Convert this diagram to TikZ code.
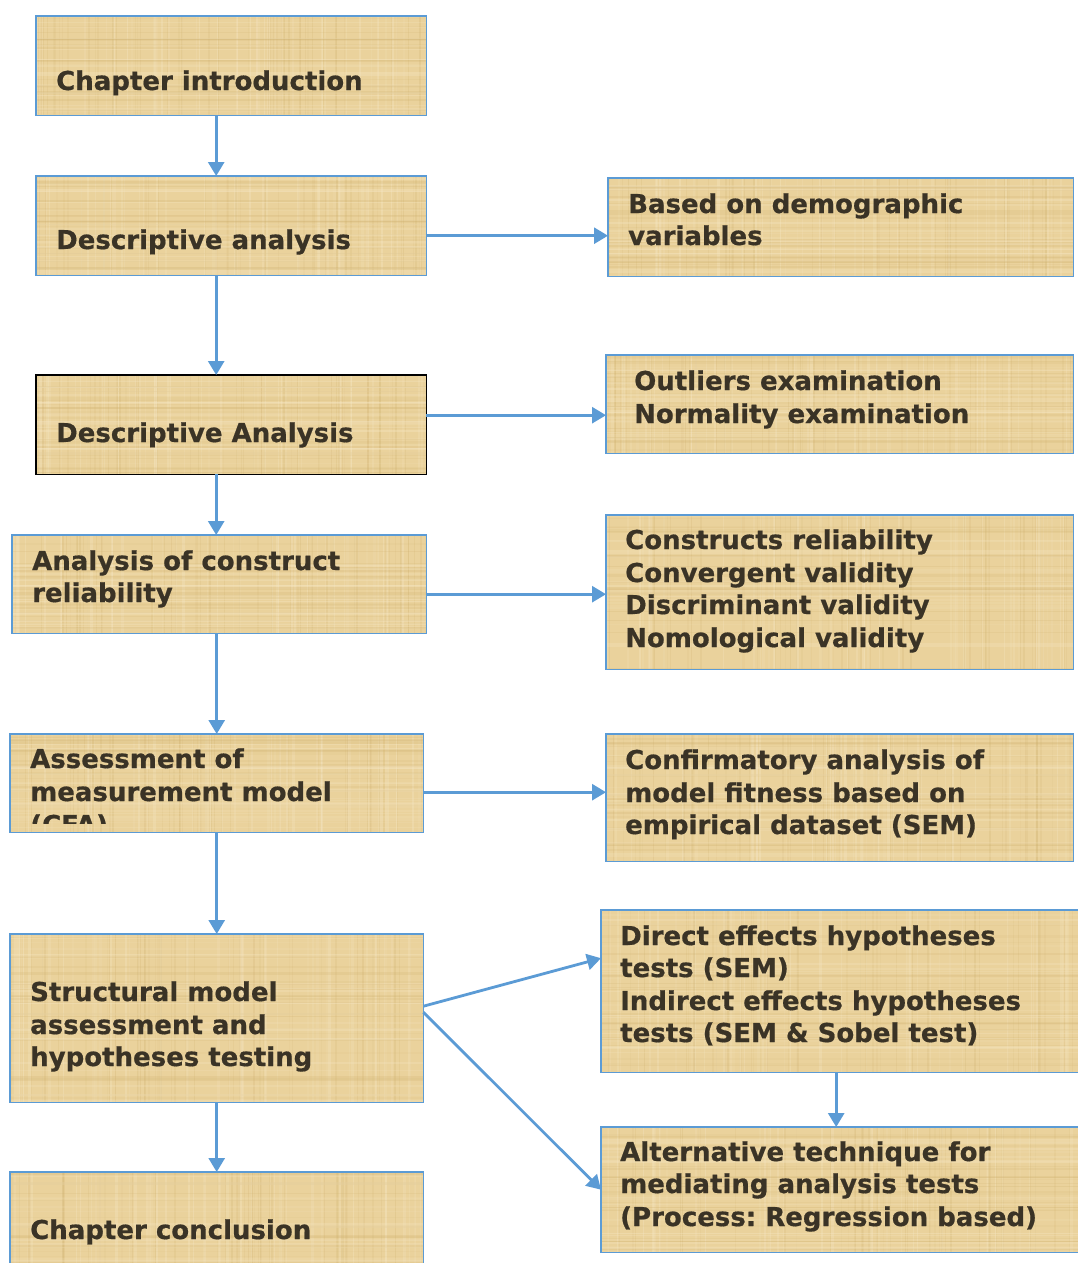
\documentclass[tikz,border=0pt]{standalone}
\usepackage{fontspec}
\setmainfont{DejaVu Sans}[BoldFeatures={FakeBold=0.6}]
\usetikzlibrary{arrows.meta,calc}
\frenchspacing

\definecolor{edgeblue}{HTML}{5B9BD5}
\definecolor{papyrus}{HTML}{EAD29C}
\definecolor{papyruslight}{HTML}{F6E7C4}
\definecolor{papyrusdark}{HTML}{CDAE6A}
\definecolor{inktext}{HTML}{3A3326}

\tikzset{
  x=1pt, y=-1pt,
  panel/.style={rectangle, anchor=north west, inner sep=0pt, fill=papyrus},
  boxtext/.style={anchor=base west, inner sep=0pt, text=inktext,
    font=\bfseries\fontsize{26}{30}\selectfont},
  tighttext/.style={boxtext, font=\bfseries\fontsize{26}{30}\selectfont},
  link/.style={draw=edgeblue, line width=2.8pt,
    -{Triangle[length=14pt,width=16pt]}},
}

% A papyrus panel: [border colour]{name}{left}{top}{width}{height}
\newcommand\panel[6][edgeblue]{%
  \node[panel, minimum width=#5pt, minimum height=#6pt] (#2) at (#3,#4) {};
  \begin{scope}
    \clip (#2.south west) rectangle (#2.north east);
    % vertical fibres
    \foreach \k in {1,...,45}{%
      \pgfmathsetmacro\rr{rnd}%
      \pgfmathsetmacro\ww{0.6+2.4*rnd}%
      \pgfmathsetmacro\oo{0.10+0.25*rnd}%
      \draw[papyruslight, line width=\ww pt, opacity=\oo]
        ($(#2.south west)!\rr!(#2.south east)$) -- ($(#2.north west)!\rr!(#2.north east)$);
      \pgfmathsetmacro\rr{rnd}%
      \pgfmathsetmacro\ww{0.5+1.5*rnd}%
      \pgfmathsetmacro\oo{0.06+0.16*rnd}%
      \draw[papyrusdark, line width=\ww pt, opacity=\oo]
        ($(#2.south west)!\rr!(#2.south east)$) -- ($(#2.north west)!\rr!(#2.north east)$);
    }
    % horizontal fibres
    \foreach \k in {1,...,22}{%
      \pgfmathsetmacro\rr{rnd}%
      \pgfmathsetmacro\ww{0.6+2.0*rnd}%
      \pgfmathsetmacro\oo{0.10+0.25*rnd}%
      \draw[papyruslight, line width=\ww pt, opacity=\oo]
        ($(#2.south west)!\rr!(#2.north west)$) -- ($(#2.south east)!\rr!(#2.north east)$);
      \pgfmathsetmacro\rr{rnd}%
      \draw[papyrusdark, line width=\ww pt, opacity=0.6*\oo]
        ($(#2.south west)!\rr!(#2.north west)$) -- ($(#2.south east)!\rr!(#2.north east)$);
    }
  \end{scope}
  \draw[#1, line width=1.8pt] (#2.south west) rectangle (#2.north east);
}

\begin{document}
\begin{tikzpicture}
\pgfmathsetseed{11}
\useasboundingbox[fill=white] (0,0) rectangle (1077,1263);

% ---- left column ----
\panel{intro}{36}{16}{390}{99}
\node[boxtext] (introtxt) at (56,90) {Chapter introduction};

\panel{descA}{36}{176}{390}{99}
\node[boxtext] (descAtxt) at (56,249) {Descriptive analysis};

\panel[black]{descB}{36}{375}{390}{99}
\node[boxtext] (descBtxt) at (56,442) {Descriptive Analysis};

\panel{reli}{12}{535}{414}{98}
\node[boxtext] (relitxtA) at (32,570) {Analysis of construct};
\node[boxtext] (relitxtB) at (32,602) {reliability};

\panel{meas}{10}{734}{413}{98}
\node[boxtext] (meastxtA) at (30,768) {Assessment of};
\node[boxtext] (meastxtB) at (30,801) {measurement model};
\begin{scope}
  \clip (10,734) rectangle (423,823);
  \node[boxtext] (meastxtC) at (30,834) {(CFA)};
\end{scope}

\panel{struct}{10}{934}{413}{168}
\node[boxtext] (structtxtA) at (30,1001) {Structural model};
\node[boxtext] (structtxtB) at (30,1034) {assessment and};
\node[boxtext] (structtxtC) at (30,1066) {hypotheses testing};

\panel{concl}{10}{1172}{413}{120}
\node[boxtext] (concltxt) at (30,1239) {Chapter conclusion};

% ---- right column ----
\panel{demo}{608}{178}{465}{98}
\node[boxtext] (demotxtA) at (628,213) {Based on demographic};
\node[boxtext] (demotxtB) at (628,245) {variables};

\panel{outl}{606}{355}{467}{98}
\node[boxtext] (outltxtA) at (634,390) {Outliers examination};
\node[boxtext] (outltxtB) at (634,423) {Normality examination};

\panel{cons}{606}{515}{467}{154}
\node[boxtext] (constxtA) at (625,549) {Constructs reliability};
\node[boxtext] (constxtB) at (625,582) {Convergent validity};
\node[boxtext] (constxtC) at (625,614) {Discriminant validity};
\node[boxtext] (constxtD) at (625,647) {Nomological validity};

\panel{conf}{606}{734}{467}{127}
\node[boxtext] (conftxtA) at (625,769) {Confirmatory analysis of};
\node[boxtext] (conftxtB) at (625,802) {model fitness based on};
\node[boxtext] (conftxtC) at (625,834) {empirical dataset (SEM)};

\panel{direct}{601}{910}{490}{162}
\node[tighttext] (directtxtA) at (620,945) {Direct effects hypotheses};
\node[tighttext] (directtxtB) at (620,977) {tests (SEM)};
\node[tighttext] (directtxtC) at (620,1010) {Indirect effects hypotheses};
\node[tighttext] (directtxtD) at (620,1042) {tests (SEM \& Sobel test)};

\panel{alt}{601}{1127}{490}{125}
\node[tighttext] (alttxtA) at (620,1161) {Alternative technique for};
\node[tighttext] (alttxtB) at (620,1193) {mediating analysis tests};
\node[tighttext] (alttxtC) at (620,1226) {(Process: Regression based)};

% ---- connectors down the left column ----
\draw[link] ([xshift=-15pt]intro.south) -- ([xshift=-15pt]descA.north);
\draw[link] ([xshift=-15pt]descA.south) -- ([xshift=-15pt]descB.north);
\coordinate (descBout) at ([xshift=-15pt]descB.south);
\draw[link] (descBout) -- (descBout |- reli.north);
\draw[link] (reli.south -| meas.north) -- (meas.north);
\draw[link] (meas.south) -- (struct.north);
\draw[link] (struct.south) -- (concl.north);

% ---- connectors to the right column ----
\coordinate (descAout) at ([yshift=-10pt]descA.east);
\draw[link] (descAout) -- (descAout -| demo.west);
\coordinate (descBside) at ([yshift=9.5pt]descB.east);
\draw[link] (descBside) -- (descBside -| outl.west);
\coordinate (reliout) at ([yshift=-10pt]reli.east);
\draw[link] (reliout) -- (reliout -| cons.west);
\coordinate (measout) at ([yshift=-9pt]meas.east);
\draw[link] (measout) -- (measout -| conf.west);
\draw[link] ([yshift=12pt]struct.east) -- ([yshift=33pt]direct.west);
\draw[link] ([yshift=6pt]struct.east) -- (alt.west);
\coordinate (directout) at ([xshift=-10pt]direct.south);
\draw[link] (directout) -- (directout |- alt.north);
\end{tikzpicture}
\end{document}
